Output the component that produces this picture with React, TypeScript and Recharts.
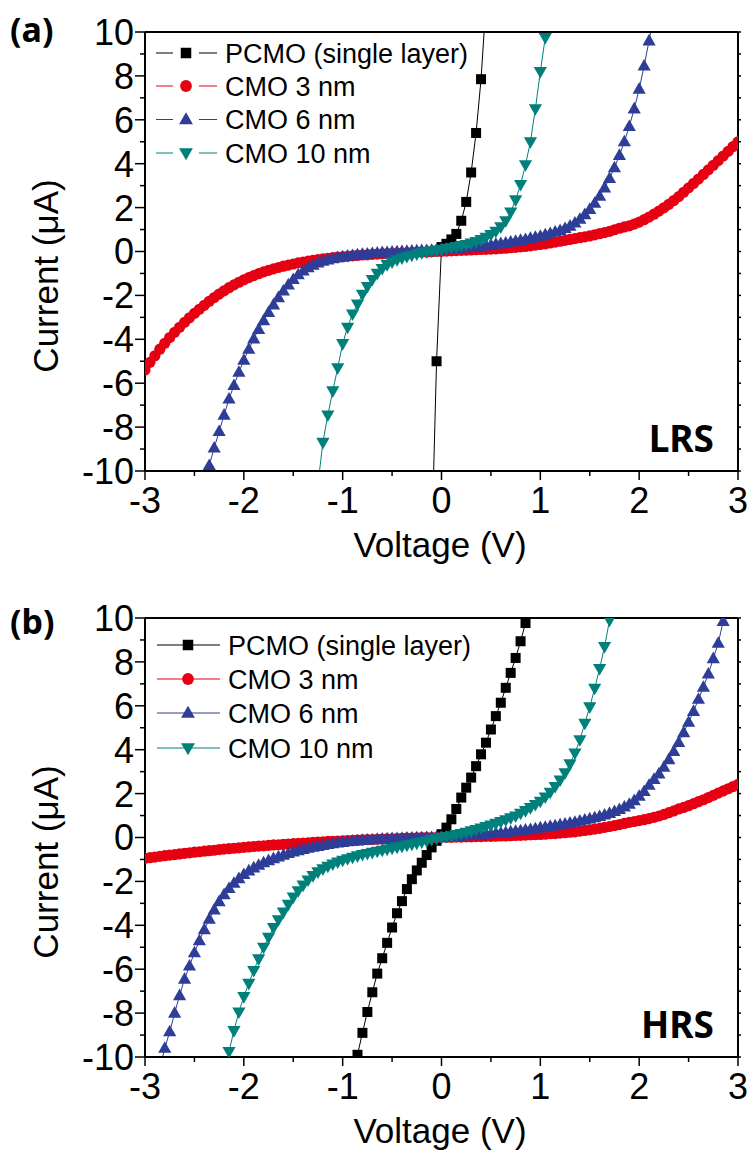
import { ComposedChart, Line, XAxis, YAxis } from "recharts"

// voltage sweep, 0.05 V steps
const SWEEP = [
  -3, -2.95, -2.9, -2.85, -2.8, -2.75, -2.7, -2.65, -2.6, -2.55,
  -2.5, -2.45, -2.4, -2.35, -2.3, -2.25, -2.2, -2.15, -2.1, -2.05,
  -2, -1.95, -1.9, -1.85, -1.8, -1.75, -1.7, -1.65, -1.6, -1.55,
  -1.5, -1.45, -1.4, -1.35, -1.3, -1.25, -1.2, -1.15, -1.1, -1.05,
  -1, -0.95, -0.9, -0.85, -0.8, -0.75, -0.7, -0.65, -0.6, -0.55,
  -0.5, -0.45, -0.4, -0.35, -0.3, -0.25, -0.2, -0.15, -0.1, -0.05,
  0, 0.05, 0.1, 0.15, 0.2, 0.25, 0.3, 0.35, 0.4, 0.45,
  0.5, 0.55, 0.6, 0.65, 0.7, 0.75, 0.8, 0.85, 0.9, 0.95,
  1, 1.05, 1.1, 1.15, 1.2, 1.25, 1.3, 1.35, 1.4, 1.45,
  1.5, 1.55, 1.6, 1.65, 1.7, 1.75, 1.8, 1.85, 1.9, 1.95,
  2, 2.05, 2.1, 2.15, 2.2, 2.25, 2.3, 2.35, 2.4, 2.45,
  2.5, 2.55, 2.6, 2.65, 2.7, 2.75, 2.8, 2.85, 2.9, 2.95,
  3,
]

const X_TICKS = [-3, -2.5, -2, -1.5, -1, -0.5, 0, 0.5, 1, 1.5, 2, 2.5, 3]
const Y_TICKS = [-10, -9, -8, -7, -6, -5, -4, -3, -2, -1, 0, 1, 2, 3, 4, 5, 6, 7, 8, 9, 10]

const SERIES_NAMES = ["PCMO (single layer)", "CMO 3 nm", "CMO 6 nm", "CMO 10 nm"]

// ---- (a) LRS, current in uA ----
const pcmoAStart = -0.1
const pcmoA = [-13.5, -5.0, 0.2, 0.35, 0.55, 0.8, 1.4, 2.26, 3.6, 5.4, 7.85, 11.3]

const cmo3AStart = -3
const cmo3A = [
  -5.4, -5.05, -4.75, -4.45, -4.18, -3.92, -3.68, -3.45, -3.23, -3.02,
  -2.82, -2.63, -2.45, -2.27, -2.1, -1.94, -1.79, -1.65, -1.52, -1.4,
  -1.29, -1.19, -1.1, -1.01, -0.93, -0.86, -0.79, -0.73, -0.67, -0.62,
  -0.57, -0.52, -0.48, -0.44, -0.4, -0.37, -0.34, -0.31, -0.28, -0.26,
  -0.24, -0.22, -0.2, -0.18, -0.16, -0.15, -0.13, -0.12, -0.11, -0.1,
  -0.09, -0.08, -0.07, -0.06, -0.05, -0.04, -0.03, -0.02, -0.01, 0,
  0.01, 0.02, 0.03, 0.04, 0.05, 0.06, 0.07, 0.08, 0.09, 0.1,
  0.11, 0.12, 0.14, 0.15, 0.17, 0.19, 0.21, 0.23, 0.26, 0.29,
  0.32, 0.35, 0.39, 0.43, 0.47, 0.51, 0.55, 0.59, 0.63, 0.67,
  0.71, 0.76, 0.81, 0.86, 0.92, 0.99, 1.06, 1.12, 1.17, 1.25,
  1.34, 1.45, 1.57, 1.7, 1.84, 1.99, 2.15, 2.32, 2.5, 2.7,
  2.9, 3.1, 3.3, 3.51, 3.72, 3.93, 4.14, 4.35, 4.56, 4.78,
  5.0,
]

const cmo6AStart = -2.4
const cmo6A = [
  -10.7, -9.75, -8.95, -8.2, -7.45, -6.72, -6.1, -5.5, -4.95, -4.45,
  -3.98, -3.55, -3.15, -2.78, -2.43, -2.1, -1.8, -1.52, -1.27, -1.06,
  -0.88, -0.74, -0.62, -0.52, -0.44, -0.38, -0.33, -0.28, -0.24, -0.21,
  -0.18, -0.15, -0.13, -0.11, -0.09, -0.07, -0.05, -0.04, -0.02, -0.01,
  0, 0.01, 0.02, 0.03, 0.04, 0.05, 0.06, 0.07,
  0.08, 0.1, 0.12, 0.14, 0.16, 0.18, 0.2, 0.22, 0.24, 0.27,
  0.3, 0.33, 0.36, 0.39, 0.43, 0.47, 0.51, 0.55, 0.6, 0.65,
  0.7, 0.76, 0.82, 0.89, 0.96, 1.05, 1.16, 1.3, 1.47, 1.68,
  1.92, 2.2, 2.52, 2.9, 3.33, 3.82, 4.38, 5.0, 5.7, 6.5,
  7.4, 8.45, 9.6, 10.8,
]

const cmo10AStart = -1.25
const cmo10A = [
  -10.6, -8.7, -7.45, -6.35, -5.3, -4.2, -3.45, -2.85, -2.4, -1.95,
  -1.6, -1.28, -1.0, -0.78, -0.6, -0.48, -0.38, -0.3, -0.23, -0.17,
  -0.11, -0.06, -0.02, 0.02, 0.06,
  0.1, 0.14, 0.18, 0.22, 0.27, 0.32, 0.38, 0.45, 0.54, 0.65,
  0.77, 0.92, 1.12, 1.4, 1.8, 2.35, 3.05, 3.95, 5.0, 6.5,
  8.2, 9.75, 11.3,
]

// ---- (b) HRS, current in uA ----
const pcmoBStart = -0.9
const pcmoB = [
  -10.9, -9.9, -8.9, -7.95, -7.05, -6.2, -5.5, -4.8, -4.1, -3.45,
  -2.9, -2.35, -1.9, -1.5, -1.15, -0.8, -0.45, -0.15, 0.15, 0.45,
  0.83, 1.3, 1.82, 2.27, 2.73, 3.25, 3.79, 4.32, 4.92, 5.53,
  6.14, 6.82, 7.5, 8.18, 8.94, 9.77, 10.6,
]

const cmo3BStart = -3
const cmo3B = [
  -0.95, -0.92, -0.89, -0.86, -0.83, -0.8, -0.78, -0.75, -0.72, -0.7,
  -0.67, -0.65, -0.62, -0.6, -0.58, -0.55, -0.53, -0.51, -0.49, -0.47,
  -0.45, -0.43, -0.41, -0.39, -0.38, -0.36, -0.34, -0.33, -0.31, -0.3,
  -0.28, -0.27, -0.25, -0.24, -0.22, -0.21, -0.2, -0.18, -0.17, -0.16,
  -0.15, -0.14, -0.13, -0.12, -0.11, -0.1, -0.09, -0.08, -0.07, -0.06,
  -0.06, -0.05, -0.04, -0.03, -0.03, -0.02, -0.01, -0.01, 0, 0,
  0.01, 0.01, 0.01, 0.02, 0.02, 0.03, 0.03, 0.04, 0.04, 0.05,
  0.05, 0.06, 0.07, 0.07, 0.08, 0.09, 0.1, 0.11, 0.12, 0.13,
  0.14, 0.15, 0.17, 0.18, 0.2, 0.22, 0.24, 0.26, 0.29, 0.32,
  0.35, 0.38, 0.42, 0.46, 0.5, 0.54, 0.59, 0.64, 0.69, 0.73,
  0.77, 0.81, 0.86, 0.92, 0.98, 1.05, 1.13, 1.21, 1.3, 1.37,
  1.45, 1.54, 1.63, 1.72, 1.82, 1.92, 2.02, 2.12, 2.22, 2.32,
  2.42,
]

const cmo6BStart = -2.85
const cmo6B = [
  -10.5, -9.6, -8.85, -8.0, -7.2, -6.45, -5.85, -5.25, -4.7, -4.2,
  -3.72, -3.3, -2.92, -2.6, -2.32, -2.08, -1.87, -1.68, -1.52, -1.38,
  -1.26, -1.15, -1.05, -0.96, -0.88, -0.8, -0.73, -0.66, -0.6, -0.54,
  -0.49, -0.44, -0.4, -0.36, -0.32, -0.28, -0.25, -0.22, -0.19, -0.17,
  -0.15, -0.13, -0.11, -0.1, -0.08, -0.07, -0.06, -0.05, -0.04, -0.03,
  -0.02, -0.02, -0.01, -0.01, 0, 0, 0.01,
  0.02, 0.03, 0.04, 0.05, 0.07, 0.08, 0.1, 0.11, 0.13, 0.15,
  0.17, 0.19, 0.21, 0.23, 0.26, 0.28, 0.31, 0.34, 0.37, 0.4,
  0.44, 0.47, 0.51, 0.54, 0.58, 0.62, 0.66, 0.7, 0.75, 0.8,
  0.85, 0.9, 0.96, 1.03, 1.1, 1.19, 1.28, 1.39, 1.52, 1.68,
  1.88, 2.1, 2.38, 2.65, 2.9, 3.2, 3.55, 3.92, 4.33, 4.78,
  5.25, 5.75, 6.3, 6.85, 7.45, 8.15, 8.85, 9.85, 10.9,
]

const cmo10BStart = -2.2
const cmo10B = [
  -11.0, -9.75, -8.8, -7.95, -7.25, -6.65, -6.06, -5.53, -5.0, -4.55,
  -4.1, -3.75, -3.4, -3.05, -2.72, -2.43, -2.17, -1.94, -1.74, -1.57,
  -1.43, -1.31, -1.21, -1.12, -1.04, -0.97, -0.9, -0.84, -0.78, -0.73,
  -0.68, -0.63, -0.58, -0.53, -0.49, -0.44, -0.4, -0.35, -0.31, -0.26,
  -0.21, -0.16, -0.1, -0.05,
  0, 0.04, 0.08, 0.13, 0.18, 0.24, 0.3, 0.36, 0.43, 0.5,
  0.57, 0.64, 0.72, 0.8, 0.89, 0.98, 1.1, 1.22, 1.36, 1.5,
  1.65, 1.84, 2.06, 2.32, 2.62, 2.95, 3.35, 3.85, 4.45, 5.2,
  5.95, 6.8, 7.7, 8.7, 9.9, 10.9,
]

const toPoints = (start: number, currents: number[]) => {
  const k = SWEEP.indexOf(start)
  return currents.map((i, n) => ({ v: SWEEP[k + n], i }))
}

const COLORS = ["#000000", "#e60012", "#2e3d98", "#00807b"]
const SHAPES = ["square", "circle", "up", "down"]
const FONT = "'Liberation Sans', Arial, sans-serif"
const BOLD_FONT = "'Noto Sans', 'Liberation Sans', sans-serif"

function Marker({ shape, cx, cy, color, s = 1 }: any) {
  if (cx == null || cy == null) return null
  if (shape === "square")
    return <rect x={cx - 5 * s} y={cy - 5 * s} width={10 * s} height={10 * s} fill={color} />
  if (shape === "circle") return <circle cx={cx} cy={cy} r={5.6 * s} fill={color} />
  if (shape === "up")
    return (
      <polygon
        points={`${cx},${cy - 7 * s} ${cx + 6.6 * s},${cy + 4.6 * s} ${cx - 6.6 * s},${cy + 4.6 * s}`}
        fill={color}
      />
    )
  return (
    <polygon
      points={`${cx - 6.6 * s},${cy - 4.6 * s} ${cx + 6.6 * s},${cy - 4.6 * s} ${cx},${cy + 7 * s}`}
      fill={color}
    />
  )
}

const LeftTick = (p: any) => {
  const v = p.payload.value
  const major = v % 2 === 0
  return (
    <g>
      <line x1={p.x - (major ? 10 : 5)} x2={p.x} y1={p.y} y2={p.y} stroke="#000" strokeWidth={1.5} />
      {major && (
        <text x={p.x - 11} y={p.y} dy="0.36em" textAnchor="end" fontSize={36} fontFamily={FONT} fill="#000">
          {v}
        </text>
      )}
    </g>
  )
}

const BottomTick = (p: any) => {
  const v = p.payload.value
  const major = Number.isInteger(v)
  return (
    <g>
      <line x1={p.x} x2={p.x} y1={p.y} y2={p.y + (major ? 9 : 5)} stroke="#000" strokeWidth={1.5} />
      {major && (
        <text x={p.x} y={p.y + 42} textAnchor="middle" fontSize={36} fontFamily={FONT} fill="#000">
          {v}
        </text>
      )}
    </g>
  )
}

const TopTick = (p: any) => (
  <line x1={p.x} x2={p.x} y1={p.y} y2={p.y - 3} stroke="#000" strokeWidth={1.5} />
)

const RightTick = (p: any) => (
  <line x1={p.x} x2={p.x + 3} y1={p.y} y2={p.y} stroke="#000" strokeWidth={1.5} />
)

type PanelProps = {
  top: number
  series: { v: number; i: number }[][]
  tag: string
  tagBase: number
  state: string
  legendRows: number[]
  legendX: [number, number, number, number]
  legendGap: boolean
}

function Panel({ top, series, tag, tagBase, state, legendRows, legendX, legendGap }: PanelProps) {
  const [lx0, lm, lx1, tx] = legendX
  return (
    <div style={{ position: "absolute", left: 0, top, width: 751, height: 577 }}>
      <ComposedChart width={751} height={577} margin={{ top: 22, right: 3, bottom: 46, left: 45 }}>
        <XAxis
          xAxisId={0}
          dataKey="v"
          type="number"
          domain={[-3, 3]}
          allowDataOverflow
          ticks={X_TICKS}
          interval={0}
          height={60}
          tickSize={0}
          tickMargin={0}
          tickLine={false}
          tick={BottomTick}
          axisLine={{ stroke: "#000", strokeWidth: 2 }}
        />
        <XAxis
          xAxisId="top"
          orientation="top"
          type="number"
          domain={[-3, 3]}
          allowDataOverflow
          ticks={X_TICKS}
          interval={0}
          height={10}
          tickSize={0}
          tickMargin={0}
          tickLine={false}
          tick={TopTick}
          axisLine={{ stroke: "#000", strokeWidth: 2 }}
        />
        <YAxis
          yAxisId={0}
          type="number"
          domain={[-10, 10]}
          allowDataOverflow
          ticks={Y_TICKS}
          interval={0}
          width={100}
          tickSize={0}
          tickMargin={0}
          tickLine={false}
          tick={LeftTick}
          axisLine={{ stroke: "#000", strokeWidth: 2 }}
        />
        <YAxis
          yAxisId="right"
          orientation="right"
          type="number"
          domain={[-10, 10]}
          allowDataOverflow
          ticks={Y_TICKS}
          interval={0}
          width={10}
          tickSize={0}
          tickMargin={0}
          tickLine={false}
          tick={RightTick}
          axisLine={{ stroke: "#000", strokeWidth: 2 }}
        />
        {series.map((data, k) => (
          <Line
            key={SERIES_NAMES[k]}
            data={data}
            dataKey="i"
            type="linear"
            stroke={COLORS[k]}
            strokeWidth={1}
            isAnimationActive={false}
            activeDot={false}
            dot={(p: any) => (
              <Marker key={p.index} shape={SHAPES[k]} cx={p.cx} cy={p.cy} color={COLORS[k]} />
            )}
          />
        ))}
      </ComposedChart>

      <svg
        width={751}
        height={577}
        style={{ position: "absolute", left: 0, top: 0, pointerEvents: "none" }}
      >
        <text x={10} y={tagBase} fontSize={34} fontWeight="bold" fontFamily={BOLD_FONT} fill="#000">
          {tag}
        </text>
        <text
          transform="translate(58,276) rotate(-90)"
          textAnchor="middle"
          fontSize={35}
          fontFamily={FONT}
          fill="#000"
        >
          Current (μA)
        </text>
        <text x={440} y={557} textAnchor="middle" fontSize={35} fontFamily={FONT} fill="#000">
          Voltage (V)
        </text>
        <text x={714} y={452} textAnchor="end" fontSize={37} fontWeight="bold" fontFamily={BOLD_FONT} fill="#000">
          {state}
        </text>
        {legendRows.map((y, k) => (
          <g key={k}>
            {legendGap ? (
              <>
                <line x1={lx0} x2={lm - 13} y1={y} y2={y} stroke={COLORS[k]} strokeWidth={1} />
                <line x1={lm + 13} x2={lx1} y1={y} y2={y} stroke={COLORS[k]} strokeWidth={1} />
              </>
            ) : (
              <line x1={lx0} x2={lx1} y1={y} y2={y} stroke={COLORS[k]} strokeWidth={1} />
            )}
            <Marker shape={SHAPES[k]} cx={lm} cy={y} color={COLORS[k]} s={1.05} />
            <text x={tx} y={y + 9.5} fontSize={27} fontFamily={FONT} fill="#000">
              {SERIES_NAMES[k]}
            </text>
          </g>
        ))}
      </svg>
    </div>
  )
}

export default function App() {
  const seriesA = [
    toPoints(pcmoAStart, pcmoA),
    toPoints(cmo3AStart, cmo3A),
    toPoints(cmo6AStart, cmo6A),
    toPoints(cmo10AStart, cmo10A),
  ]
  const seriesB = [
    toPoints(pcmoBStart, pcmoB),
    toPoints(cmo3BStart, cmo3B),
    toPoints(cmo6BStart, cmo6B),
    toPoints(cmo10BStart, cmo10B),
  ]
  return (
    <div style={{ position: "absolute", left: 0, top: 0, width: 751, height: 1154, background: "#fff" }}>
      <Panel
        top={0}
        series={seriesA}
        tag="(a)"
        tagBase={42}
        state="LRS"
        legendRows={[53, 86, 119.5, 153]}
        legendX={[156, 186, 217, 225]}
        legendGap
      />
      <Panel
        top={586}
        series={seriesB}
        tag="(b)"
        tagBase={48}
        state="HRS"
        legendRows={[59, 93, 127, 162]}
        legendX={[157, 188, 220, 228]}
        legendGap={false}
      />
    </div>
  )
}
